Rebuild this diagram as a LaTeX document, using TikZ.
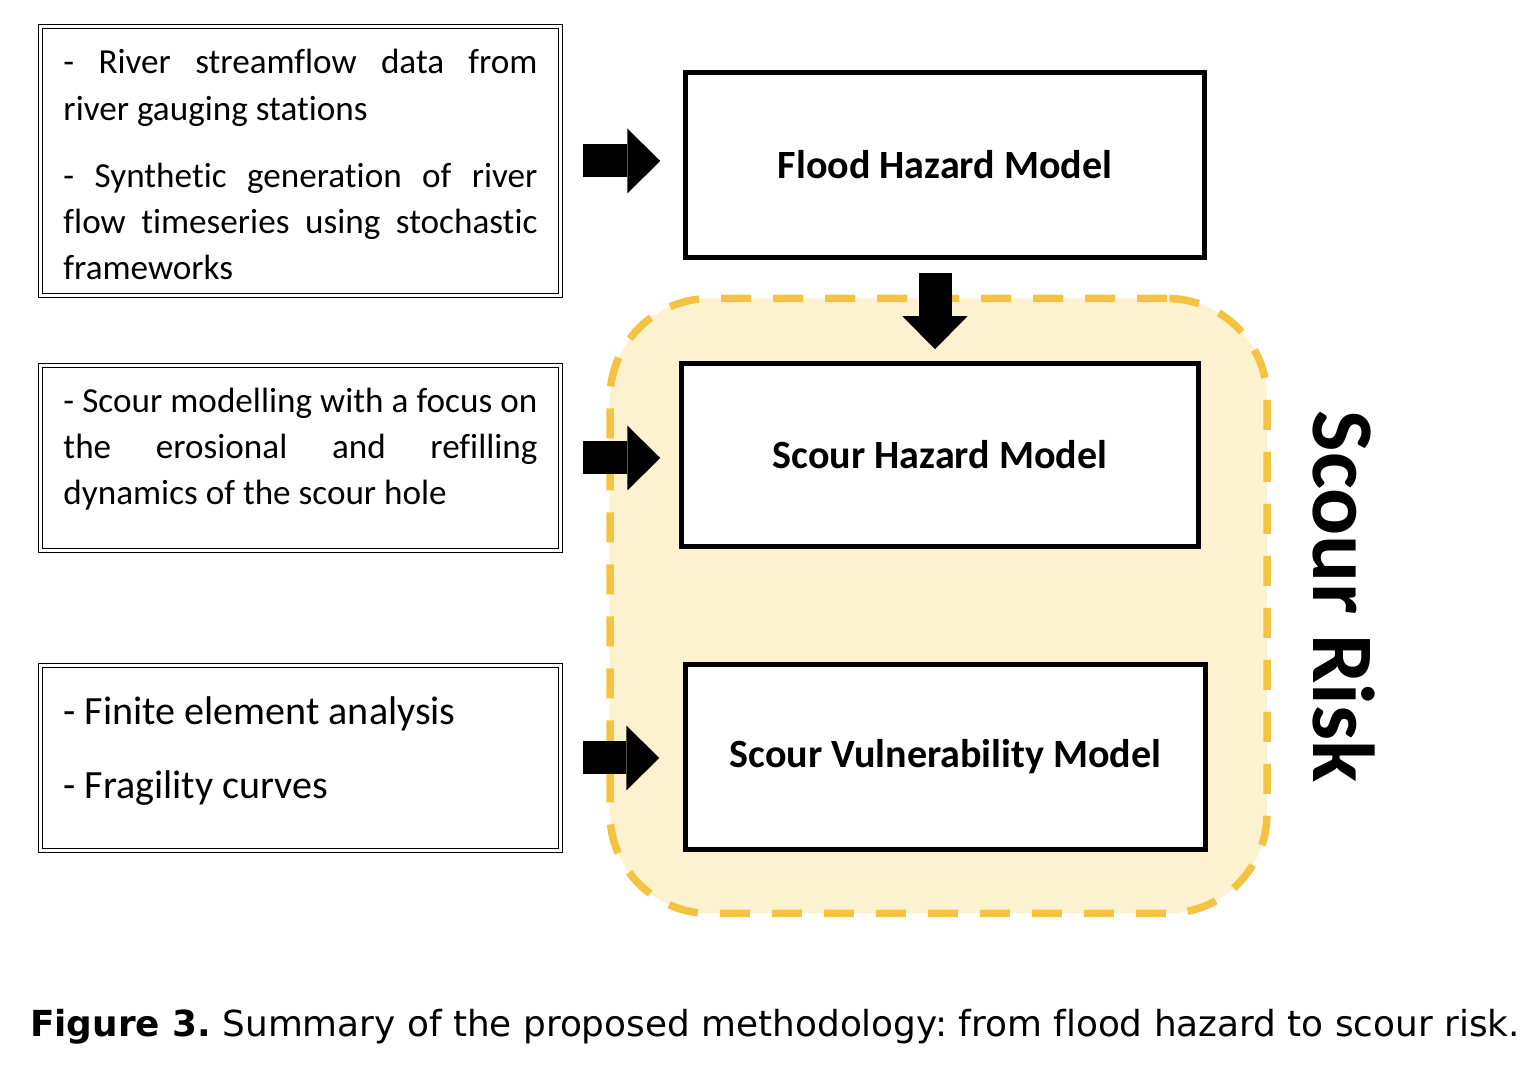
\documentclass[tikz,border=0pt]{standalone}
\usepackage{fontspec}
\setmainfont{Carlito}[Ligatures=CommonOff]
\newfontfamily\captionfont{DejaVu Sans}[Ligatures=CommonOff]
\usetikzlibrary{arrows.meta}
\frenchspacing

\definecolor{riskfill}{HTML}{FDF2D0}
\definecolor{riskline}{HTML}{F5C342}

\newcommand{\jline}[1]{\makebox[4.74cm][s]{#1}}
\newcommand{\padbottom}[1]{\par\nointerlineskip\vspace{#1}\null}

\begin{document}
\begin{tikzpicture}

\useasboundingbox (0,0) rectangle (15.40,10.68);

\tikzstyle{source} = [rectangle, draw=black, line width=0.17mm, double, double distance=0.22mm, minimum width=5.2cm, text width=4.74cm, align=left, inner sep=0pt, font=\fontsize{10}{13.1}\selectfont, execute at begin node={\spaceskip=0pt\xspaceskip=0pt}]
\tikzstyle{model} = [rectangle, draw=black, line width=0.55mm, fill=white, minimum width=5.19cm, minimum height=1.85cm, text centered, font=\fontsize{11.4}{13}\selectfont\bfseries]
\tikzstyle{risk} = [rectangle, rounded corners=1cm, draw=riskline, fill=riskfill, line width=0.75mm, dash pattern=on 3mm off 2.2mm, minimum width=6.57cm, minimum height=6.15cm]
\tikzstyle{risklabel} = [rotate=-90, anchor=base, inner sep=0pt, font=\fontsize{25}{30}\selectfont\bfseries]
\tikzstyle{caption} = [anchor=base, inner sep=0pt, font=\captionfont\fontsize{10.2}{12}\selectfont]

\tikzstyle{arrow} = [line width=3.3mm, -{Triangle[length=3.3mm, width=6.5mm, line width=0pt]}]

\node (sr) [risk] at (9.385,4.62) {};

\node (s1) [source, minimum height=2.69cm] at (3.005,9.07) {\jline{- River streamflow data from}\\
river gauging stations\\[2.1mm]
\jline{- Synthetic generation of river}\\
\jline{flow timeseries using stochastic}\\
frameworks\padbottom{-0.7mm}};
\node (s2) [source, node distance=2.97cm, below of = s1, minimum height=1.85cm] {\jline{- Scour modelling with a focus on}\\
\jline{the erosional and refilling}\\
dynamics of the scour hole\padbottom{1.8mm}};
\node (s3) [source, node distance=3.00cm, below of = s2, minimum height=1.85cm, font=\fontsize{11.4}{21}\selectfont] {- Finite element analysis\\
- Fragility curves\padbottom{1.4mm}};

\node (fm) [model, node distance=6.445cm, right of = s1, yshift=-0.04cm] {Flood Hazard Model};
\node (sh) [model, node distance=2.90cm, below of = fm, xshift=-0.05cm, minimum width=5.17cm, minimum height=1.83cm] {Scour Hazard Model};
\node (sv) [model, node distance=3.02cm, below of = sh, xshift=0.055cm, minimum width=5.20cm] {Scour Vulnerability Model};

\node (rl) [risklabel] at (13.13,4.715) {Scour Risk};

\draw [arrow, shorten <=0.215cm, shorten >=0.225cm] (s1.east) -- (s1.east -| fm.west);
\draw [arrow, shorten <=0.215cm, shorten >=0.185cm] (s2.east) -- (s2.east -| sh.west);
\draw [arrow, shorten <=0.215cm, shorten >=0.235cm] (s3.east) -- (s3.east -| sv.west);
\coordinate (dn) at ([xshift=-0.1cm]fm.south);
\draw [arrow, shorten <=0.125cm, shorten >=0.115cm] (dn) -- (dn |- sh.north);

\node (cap) [caption] at (7.75,0.31) {{\bfseries Figure 3.} Summary of the proposed methodology: from flood hazard to scour risk.};

\end{tikzpicture}
\end{document}
